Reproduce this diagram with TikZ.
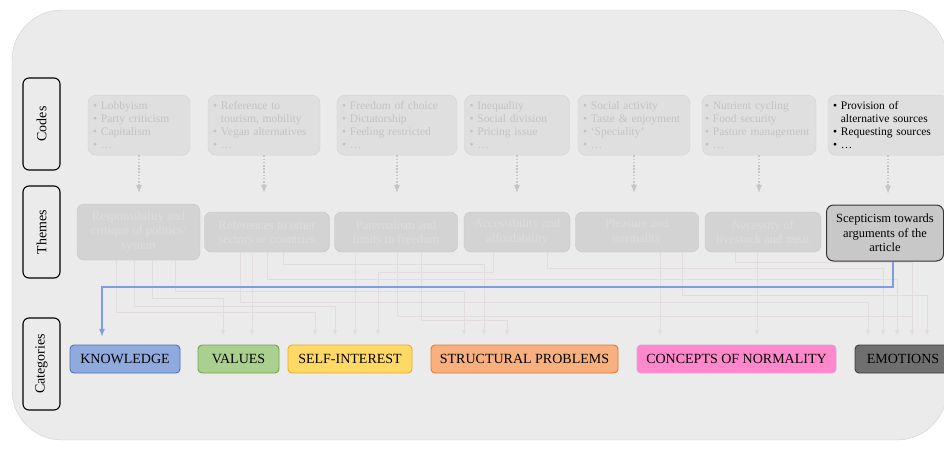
\documentclass[tikz,border=0pt]{standalone}
\usepackage{fontspec}
\setmainfont{Liberation Serif}
\hyphenpenalty=10000
\exhyphenpenalty=10000

% Farben
\definecolor{panelfill}{HTML}{EBEBEB}
\definecolor{panelline}{HTML}{D0D0D0}
\definecolor{codefill}{HTML}{DFDFDF}
\definecolor{codeline}{HTML}{D2D2D2}
\definecolor{codetext}{HTML}{C3C3C3}
\definecolor{themefill}{HTML}{D3D3D3}
\definecolor{themeline}{HTML}{C4C4C4}
\definecolor{themetext}{HTML}{DDDDDD}
\definecolor{dotgray}{HTML}{C6C6C6}
\definecolor{linkgray}{HTML}{E2DCDC}
\definecolor{linkblue}{HTML}{7E9DE2}
\definecolor{knowfill}{HTML}{8FAADC}
\definecolor{knowline}{HTML}{4A72C0}
\definecolor{valfill}{HTML}{A9D08E}
\definecolor{valline}{HTML}{6FA84A}
\definecolor{selffill}{HTML}{FFD966}
\definecolor{selfline}{HTML}{E5AE2A}
\definecolor{strucfill}{HTML}{F8B07F}
\definecolor{strucline}{HTML}{DE7A36}
\definecolor{normfill}{HTML}{FF88CC}
\definecolor{normline}{HTML}{DDA0E6}
\definecolor{emofill}{HTML}{6F6F6F}
\definecolor{emoline}{HTML}{3D3D3D}

\newcommand{\bul}{\textbullet~}
\newcommand{\bulin}{\phantom{\textbullet~}}

\begin{document}
\begin{tikzpicture}[x=1pt, y=-1pt,
        >=latex, % Pfeilspitzen
        rowlabel/.style={draw=black, line width=1.1pt, rounded corners=6pt, rotate=90,
            minimum width=92pt, minimum height=37pt, font=\fontsize{14}{16}\selectfont},
        codebox/.style={draw=codeline, fill=codefill, rounded corners=8pt, anchor=north,
            text width=#1, align=left, minimum height=60pt, inner xsep=5pt,
            text=codetext, font=\fontsize{11.5}{13}\selectfont},
        themebox/.style={draw=themeline, fill=themefill, rounded corners=7pt,
            minimum width=#1, minimum height=40pt, align=center,
            text=themetext, font=\fontsize{12.5}{14.5}\selectfont},
        catbox/.style={draw=#1line, fill=#1fill, line width=0.9pt, rounded corners=4pt,
            minimum height=28pt, font=\fontsize{14}{15}\selectfont},
        codearrow/.style={->, draw=dotgray, line width=1.7pt, dash pattern=on 1.6pt off 1.6pt},
        catlink/.style={->, draw=linkgray, line width=0.9pt, shorten >=9pt},
        bluelink/.style={->, draw=linkblue, line width=1.6pt, shorten >=8pt}
    ]
    \useasboundingbox (0,0) rectangle (944,453);

    % Hintergrund
    \draw[draw=panelline, fill=panelfill, rounded corners=50pt] (12,10) rectangle (947,440);

    % Zeilen
    \node[rowlabel] (rowcodes)  at (41.5,124) {Codes};
    \node[rowlabel] (rowthemes) at (41.5,232) {Themes};
    \node[rowlabel] (rowcats)   at (41.5,364) {Categories};

    % Codes
    \node[codebox=92pt]  (code1) at (139,95) {\bul Lobbyism\\ \bul Party criticism\\ \bul Capitalism\\ \bul …};
    \node[codebox=102pt] (code2) at (264,95) {\bul Reference to\\ \bulin tourism, mobility\\ \bul Vegan alternatives\\ \bul …};
    \node[codebox=110pt] (code3) at (397,95) {\bul Freedom of choice\\ \bul Dictatorship\\ \bul Feeling restricted\\ \bul …};
    \node[codebox=95pt]  (code4) at (517,95) {\bul Inequality\\ \bul Social division\\ \bul Pricing issue\\ \bul …};
    \node[codebox=102pt] (code5) at (634,95) {\bul Social activity\\ \bul Taste \& enjoyment\\ \bul ‘Speciality’\\ \bul …};
    \node[codebox=108pt, inner xsep=3pt] (code6) at (759,95) {\bul Nutrient cycling\\ \bul Food security\\ \bul Pasture management\\ \bul …};
    \node[codebox=110pt, text=black] (code7) at (888,95) {\bul Provision of\\ \bulin alternative sources\\ \bul Requesting sources\\ \bul …};

    % Themes
    \node[themebox=123pt, minimum height=56pt] (theme1) at (138.5,232) {Responsibility and\\ critique of politics/\\ system};
    \node[themebox=125pt] (theme2) at (267,232) {References to other\\ sectors or countries};
    \node[themebox=123pt] (theme3) at (396,232) {Paternalism and\\ limits to freedom};
    \node[themebox=106pt] (theme4) at (517,232) {Accessibility and\\ affordability};
    \node[themebox=123pt] (theme5) at (637,232) {Pleasure and\\ normality};
    \node[themebox=116pt] (theme6) at (763,232) {Necessity of\\ livestock and meat};
    \node[themebox=117pt, minimum height=56pt, fill=themefill!95!black, draw=black!80,
          line width=1pt, text=black] (theme7) at (885,233) {Scepticism towards\\ arguments of the\\ article};

    % Kategorien
    \node[catbox=know,  minimum width=110pt] (knowledge)  at (125,359)   {KNOWLEDGE};
    \node[catbox=val,   minimum width=81pt]  (values)     at (238.5,359) {VALUES};
    \node[catbox=self,  minimum width=124pt] (selfint)    at (350,359)   {SELF-INTEREST};
    \node[catbox=struc, minimum width=187pt] (structural) at (524.5,359) {STRUCTURAL PROBLEMS};
    \node[catbox=norm,  minimum width=199pt] (normality)  at (736.5,359) {CONCEPTS OF NORMALITY};
    \node[catbox=emo,   minimum width=96pt]  (emotions)   at (903,359)   {EMOTIONS};

    % Codes -> Themes
    \foreach \i/\gap in {1/11,2/19,3/19,4/19,5/19,6/19,7/11}
        \draw[codearrow, shorten >=\gap pt] (code\i.south) -- (code\i.south |- theme\i.north);

    % Themes -> Kategorien
    \foreach \src/\sx/\ly/\tx/\dst in {
            theme1/116/312/315/selfint, theme1/134/306/335/selfint,
            theme1/152/298/223/values,  theme1/175/291/464/structural,
            theme2/240/302/868/emotions, theme2/252/270/252/values,
            theme2/267/279/897/emotions, theme2/283/264/484/structural,
            theme3/355/270/355/selfint, theme3/397/316/912/emotions,
            theme3/421/320/507/structural,
            theme4/493/272/378/selfint, theme4/547/268/883/emotions,
            theme5/660/280/660/normality, theme5/682/295/927/emotions,
            theme6/735/262/912/emotions, theme6/757/270/757/normality}
        \draw[catlink] (\src.south -| \sx,0) -- (\sx,\ly) -| (\dst.north -| \tx,0);

    \draw[bluelink] (theme7.south -| 893,0) |- (102,287) -- (knowledge.north -| 102,0);

\end{tikzpicture}
\end{document}
